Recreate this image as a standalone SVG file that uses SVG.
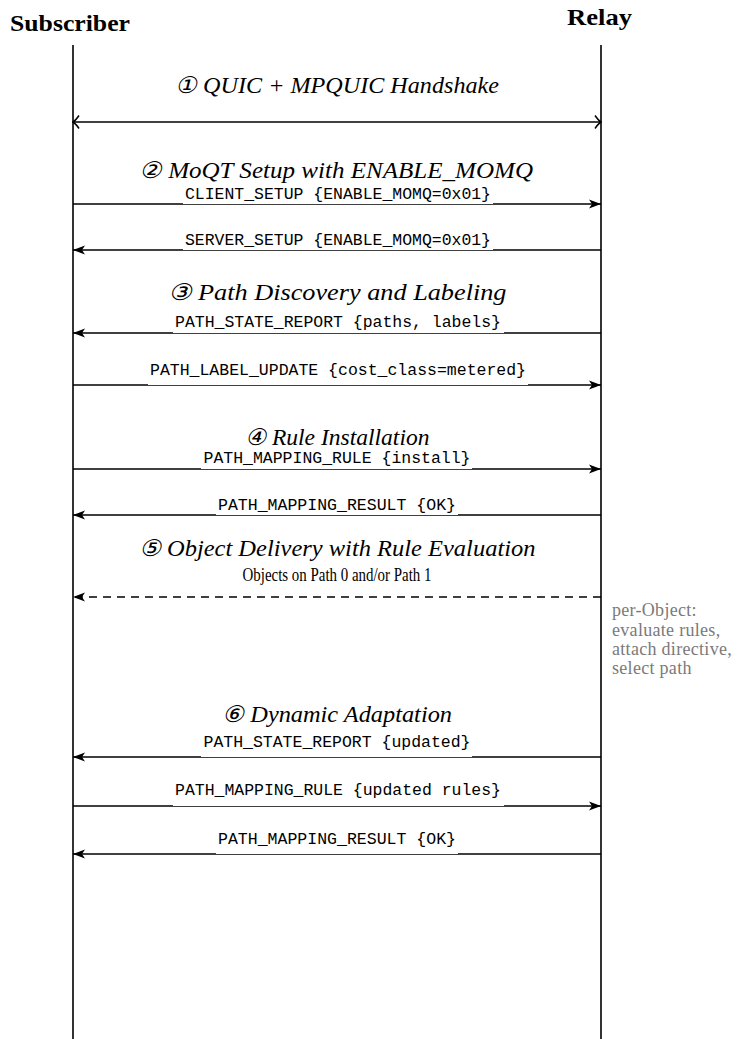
<svg xmlns="http://www.w3.org/2000/svg" width="755" height="1039" viewBox="0 0 755 1039">
  <style>
    .actor { font-family: "Liberation Serif", serif; font-weight: bold; font-size: 24px; fill: #000; }
    .phase { font-family: "Liberation Serif", serif; font-style: italic; font-size: 23px; fill: #000; text-anchor: middle; }
    .msg { font-family: "Liberation Mono", monospace; font-size: 16px; fill: #000; text-anchor: middle; }
    .plain { font-family: "Liberation Serif", serif; font-size: 19px; fill: #000; text-anchor: middle; }
    .note { font-family: "Liberation Serif", serif; font-size: 18px; fill: #7a7a7a; letter-spacing: 0.3px; }
    .life { stroke: #000; stroke-width: 1.6; fill: none; }
    .arrow { stroke: #000; stroke-width: 1.6; fill: none; marker-end: url(#head); }
    .dashed { stroke: #000; stroke-width: 1.6; fill: none; stroke-dasharray: 8 6; marker-end: url(#head); }
    .both { stroke: #000; stroke-width: 1.6; fill: none; marker-start: url(#open); marker-end: url(#open); }
    .lblbg { fill: #fff; }
  </style>
  <defs>
    <marker id="head" viewBox="-13 -6 14 12" refX="0" refY="0" markerWidth="14" markerHeight="12" markerUnits="userSpaceOnUse" orient="auto">
      <path d="M0,0 L-12,-4.5 L-9,0 L-12,4.5 Z" fill="#000"/>
    </marker>
    <marker id="open" viewBox="-9 -8 10 16" refX="0" refY="0" markerWidth="10" markerHeight="16" markerUnits="userSpaceOnUse" orient="auto-start-reverse">
      <path d="M-6,-6.5 Q-2.5,-1.5 0,0 Q-2.5,1.5 -6,6.5" fill="none" stroke="#000" stroke-width="1.5"/>
    </marker>
  </defs>

  <rect width="755" height="1039" fill="#fff"/>

  <!-- participants -->
  <g id="subscriber">
    <text class="actor" x="10" y="31" textLength="120" lengthAdjust="spacingAndGlyphs">Subscriber</text>
    <line class="life" x1="73" y1="45" x2="73" y2="1039"/>
  </g>
  <g id="relay">
    <text class="actor" x="567" y="25" textLength="65" lengthAdjust="spacingAndGlyphs">Relay</text>
    <line class="life" x1="601" y1="45" x2="601" y2="1039"/>
  </g>

  <!-- message connectors -->
  <g id="connectors">
    <line class="both" x1="73" y1="122" x2="601" y2="122"/>
    <line class="arrow" x1="73" y1="204" x2="601" y2="204"/>
    <line class="arrow" x1="601" y1="250" x2="73" y2="250"/>
    <line class="arrow" x1="601" y1="333" x2="73" y2="333"/>
    <line class="arrow" x1="73" y1="385" x2="601" y2="385"/>
    <line class="arrow" x1="73" y1="469" x2="601" y2="469"/>
    <line class="arrow" x1="601" y1="515" x2="73" y2="515"/>
    <line class="dashed" x1="601" y1="597" x2="73" y2="597"/>
    <line class="arrow" x1="601" y1="757" x2="73" y2="757"/>
    <line class="arrow" x1="73" y1="806" x2="601" y2="806"/>
    <line class="arrow" x1="601" y1="854" x2="73" y2="854"/>
  </g>

  <!-- phase 1 -->
  <g id="phase1">
    <text class="phase" x="337" y="93" textLength="324" lengthAdjust="spacingAndGlyphs">① QUIC + MPQUIC Handshake</text>
  </g>

  <!-- phase 2 -->
  <g id="phase2">
    <text class="phase" x="336" y="178" textLength="394" lengthAdjust="spacingAndGlyphs">② MoQT Setup with ENABLE_MOMQ</text>
    <rect class="lblbg" x="183" y="186" width="310" height="18"/>
    <text class="msg" x="338" y="199" textLength="306" lengthAdjust="spacingAndGlyphs">CLIENT_SETUP {ENABLE_MOMQ=0x01}</text>
    <rect class="lblbg" x="183" y="232" width="310" height="18"/>
    <text class="msg" x="338" y="245" textLength="306" lengthAdjust="spacingAndGlyphs">SERVER_SETUP {ENABLE_MOMQ=0x01}</text>
  </g>

  <!-- phase 3 -->
  <g id="phase3">
    <text class="phase" x="337" y="300" textLength="339" lengthAdjust="spacingAndGlyphs">③ Path Discovery and Labeling</text>
    <rect class="lblbg" x="173" y="315" width="331" height="18"/>
    <text class="msg" x="338" y="327" textLength="326" lengthAdjust="spacingAndGlyphs">PATH_STATE_REPORT {paths, labels}</text>
    <rect class="lblbg" x="148" y="367" width="380" height="18"/>
    <text class="msg" x="338" y="375" textLength="376" lengthAdjust="spacingAndGlyphs">PATH_LABEL_UPDATE {cost_class=metered}</text>
  </g>

  <!-- phase 4 -->
  <g id="phase4">
    <text class="phase" x="337" y="445" textLength="185" lengthAdjust="spacingAndGlyphs">④ Rule Installation</text>
    <rect class="lblbg" x="201" y="451" width="271" height="18"/>
    <text class="msg" x="337" y="463" textLength="267" lengthAdjust="spacingAndGlyphs">PATH_MAPPING_RULE {install}</text>
    <rect class="lblbg" x="216" y="497" width="242" height="18"/>
    <text class="msg" x="337" y="510" textLength="238" lengthAdjust="spacingAndGlyphs">PATH_MAPPING_RESULT {OK}</text>
  </g>

  <!-- phase 5 -->
  <g id="phase5">
    <text class="phase" x="337" y="556" textLength="397" lengthAdjust="spacingAndGlyphs">⑤ Object Delivery with Rule Evaluation</text>
    <text class="plain" x="337" y="581" textLength="189" lengthAdjust="spacingAndGlyphs">Objects on Path 0 and/or Path 1</text>
  </g>

  <!-- relay-side processing note -->
  <g id="relay-note">
    <text class="note" x="612" y="616">per-Object:</text>
    <text class="note" x="612" y="636">evaluate rules,</text>
    <text class="note" x="612" y="655">attach directive,</text>
    <text class="note" x="612" y="674">select path</text>
  </g>

  <!-- phase 6 -->
  <g id="phase6">
    <text class="phase" x="337" y="722" textLength="230" lengthAdjust="spacingAndGlyphs">⑥ Dynamic Adaptation</text>
    <rect class="lblbg" x="201" y="739" width="271" height="18"/>
    <text class="msg" x="337" y="747" textLength="267" lengthAdjust="spacingAndGlyphs">PATH_STATE_REPORT {updated}</text>
    <rect class="lblbg" x="173" y="788" width="331" height="18"/>
    <text class="msg" x="338" y="795" textLength="326" lengthAdjust="spacingAndGlyphs">PATH_MAPPING_RULE {updated rules}</text>
    <rect class="lblbg" x="216" y="836" width="242" height="18"/>
    <text class="msg" x="337" y="844" textLength="238" lengthAdjust="spacingAndGlyphs">PATH_MAPPING_RESULT {OK}</text>
  </g>
</svg>
